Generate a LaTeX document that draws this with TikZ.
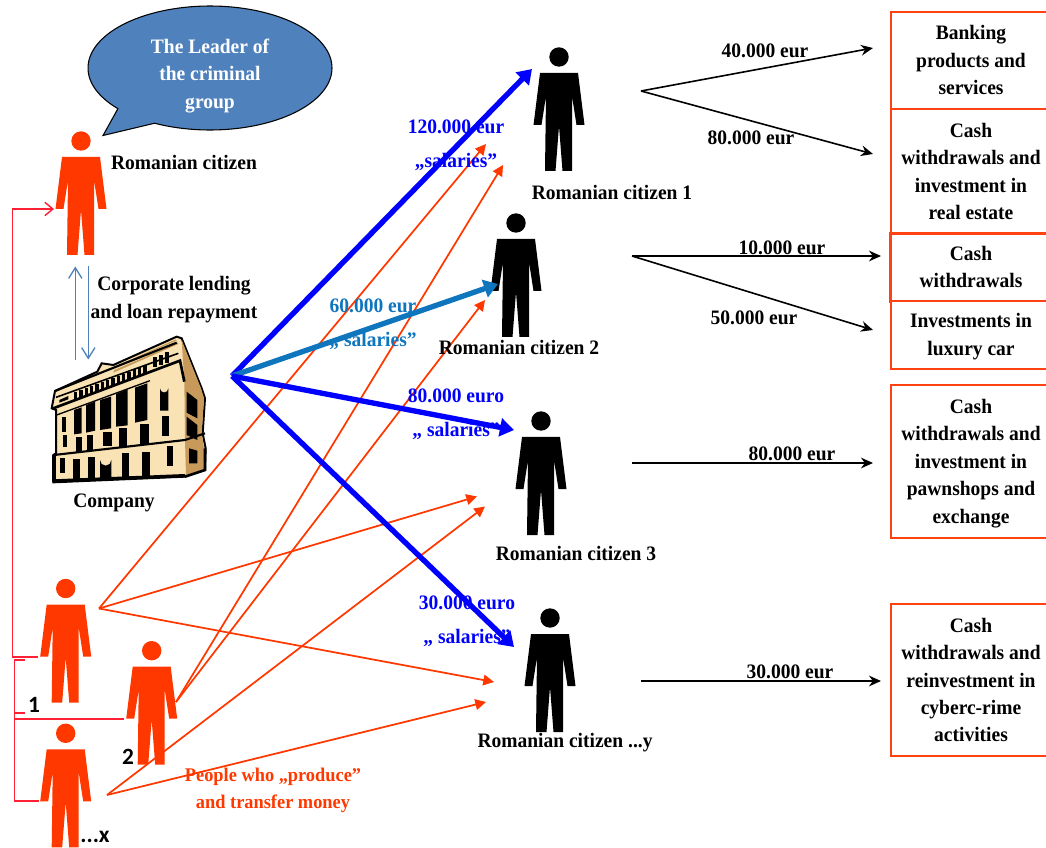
\documentclass[tikz,border=0pt]{standalone}
\usepackage{fontspec}
\setmainfont[FakeStretch=0.95]{Liberation Serif}
\newfontfamily\labelfont{Carlito}
\usetikzlibrary{arrows.meta}
\definecolor{orangeP}{HTML}{FF3800}
\definecolor{boxred}{HTML}{FF4212}
\definecolor{brack}{HTML}{FF2036}
\definecolor{steel}{HTML}{4F81BD}
\definecolor{midblue}{HTML}{0F75BD}
\definecolor{tanA}{HTML}{F9E2B4}
\definecolor{tanB}{HTML}{C79A5C}
\newcommand{\figperson}[3]{%
  \fill[#3] (#1,#2) circle (9.7);
  \fill[#3] (#1-19,#2+16) -- (#1+19,#2+16) -- (#1+25.5,#2+68) -- (#1+17.5,#2+68) -- (#1+13,#2+39)
    -- (#1+13,#2+114) -- (#1+3.5,#2+114) -- (#1,#2+69) -- (#1-3.5,#2+114) -- (#1-14,#2+114)
    -- (#1-13,#2+39) -- (#1-17.5,#2+68) -- (#1-25.5,#2+68) -- cycle;}
\tikzset{
  txt/.style={font=\fontsize{15.4}{20.6}\selectfont\bfseries,align=center,inner sep=0pt,text=#1},
  txt/.default=black,
  paytxt/.style={font=\fontsize{15.4}{25.8}\selectfont\bfseries,align=center,inner sep=0pt,text=#1},
  peopletxt/.style={font=\fontsize{14.5}{20.6}\selectfont\bfseries,align=center,inner sep=0pt,text=orangeP},
  casebox/.style={draw=boxred,line width=1.3pt,fill=white,inner sep=0pt,anchor=north west},
  heavy/.style={line width=4pt,-{Triangle[length=10.5pt,width=13.5pt]},#1},
  thinred/.style={line width=1.3pt,orangeP,-{Triangle[length=8pt,width=8pt]}},
  flow/.style={line width=1.2pt,black,-{Stealth[length=9pt,width=8pt]}},
  bracketline/.style={line width=1.4pt,brack},
  loan/.style={line width=1pt,steel,-{Straight Barb[length=8pt,width=10pt,line width=1pt]}},
  win/.style={fill=black},
  numlabel/.style={font=\labelfont\fontsize{17.5}{20}\selectfont\bfseries,inner sep=0pt},
}
\begin{document}
\begin{tikzpicture}[x=0.75pt,y=-0.75pt]
\useasboundingbox (0,0) rectangle (1046,848);
% boxes
\node[casebox,minimum width=120pt,minimum height=72.7pt] (b1) at (890,11) {};
\node[casebox,minimum width=120pt,minimum height=93pt] (b2) at (890,108) {};
\node[casebox,minimum width=120pt,minimum height=51pt,line width=2pt] (b3) at (889,232) {};
\node[casebox,minimum width=120pt,minimum height=51pt] (b4) at (890,300) {};
\node[casebox,minimum width=120pt,minimum height=114.8pt] (b5) at (890,384) {};
\node[casebox,minimum width=120pt,minimum height=114pt] (b6) at (890,603) {};
% speech bubble
\fill[steel,draw=black,line width=.8pt] plot[domain=139:477,samples=120] ({210+122*cos(\x)},{68+62*sin(\x)}) -- (103,135.5) -- cycle;
% people
\figperson{81}{141}{orangeP}
\figperson{65.7}{588.5}{orangeP}
\figperson{151.7}{650.7}{orangeP}
\figperson{65.7}{733.3}{orangeP}
\figperson{559}{57}{black}
\figperson{516}{223}{black}
\figperson{541}{421}{black}
\figperson{550}{618}{black}
% building
\begin{scope}[shift={(0,320)},x=0.25pt,y=-0.25pt]
\fill[tanA,draw=black,line width=1.5pt] (155,265) -- (165,213) -- (292,155) -- (305,130) -- (340,135) -- (530,50) -- (545,55) -- (605,205) -- (615,235) -- (608,340) -- (617,385) -- (615,450) -- (555,470) -- (160,487) -- (160,405) -- (168,400) -- (168,270) -- cycle;
\fill[tanB] (545,60) -- (603,205) -- (612,235) -- (605,340) -- (612,385) -- (612,448) -- (558,466) -- (555,360) -- (553,185) -- cycle;
\fill[tanB] (345,140) -- (528,58) -- (535,72) -- (340,158) -- cycle;
\fill[tanA] (340,145) -- (530,62) -- (533,68) -- (338,152) -- cycle;
\draw[line width=2pt] (157,266) -- (540,122) -- (553,185);
\draw[line width=1.6pt] (165,213) -- (530,68);
\draw[line width=1.2pt] (168,232) -- (535,100);
\draw[line width=1.6pt] (162,405) -- (555,360) -- (615,340);
\draw[line width=1pt] (170,285) -- (450,182);
\foreach \x in {222,238,...,430}{\fill[win] (\x,{241-(\x-220)*0.385}) rectangle ++(10,-24);}
\fill[win] (178,240) -- (205,228) -- (205,238) -- (178,248) -- cycle;
\fill[win] (458,112) rectangle (472,140);\fill[win] (478,105) rectangle (490,136);\fill[win] (495,97) rectangle (508,130);
\fill[win] (222,270) -- (245,262) -- (245,340) -- (222,343) -- cycle;
\fill[win] (258,255) -- (285,245) -- (285,332) -- (258,338) -- cycle;
\fill[win] (300,240) -- (333,230) -- (333,325) -- (300,330) -- cycle;
\fill[win] (348,222) -- (383,208) -- (383,316) -- (348,320) -- cycle;
\fill[win] (405,203) -- (442,190) -- (442,300) -- (405,308) -- cycle;
\fill[win] (228,350) rectangle (245,395);\fill[win] (262,345) rectangle (280,390);\fill[win] (310,335) rectangle (335,378);\fill[win] (358,325) rectangle (382,380);\fill[win] (420,312) rectangle (447,372);
\fill[win] (220,418) rectangle (240,485);\fill[win] (265,412) rectangle (285,482);
\fill[win] (300,478) -- (300,420) arc[start angle=180,end angle=0,radius=17] -- (334,478) -- cycle;
\fill[win] (365,400) rectangle (388,475);\fill[win] (425,395) rectangle (450,472);
\fill[win] (185,290) rectangle (198,335);\fill[win] (188,345) rectangle (202,380);\fill[win] (180,415) rectangle (195,460);
\fill[win] (480,272) -- (480,205) arc[start angle=180,end angle=0,radius=12.5] -- (505,272) -- cycle;
\fill[win] (487,288) rectangle (508,348);\fill[win] (500,378) rectangle (520,438);
\fill[win] (560,215) -- (592,240) -- (592,295) -- (560,278) -- cycle;
\fill[win] (560,290) -- (592,315) -- (592,360) -- (560,345) -- cycle;
\fill[win] (567,385) -- (592,392) -- (592,430) -- (567,430) -- cycle;
\fill[black] (160,478) -- (555,462) -- (555,472) -- (160,488) -- cycle;
\draw[line width=2.5pt] (162,405) -- (162,485);
\draw[line width=2pt] (555,470) -- (615,450) -- (615,385);
\end{scope}
% anchor points
\coordinate (hub) at (232,376);
\coordinate (h1) at (532,69);
\coordinate (h2) at (498,284);
\coordinate (h3) at (514,430);
\coordinate (h4) at (514,647);
\coordinate (o1) at (99,608.5);
\coordinate (o2) at (176,702);
\coordinate (ox) at (107,795);
\coordinate (t1) at (486,144);
\coordinate (t2) at (503,165);
\coordinate (t3) at (485,300);
\coordinate (t4) at (477,496.5);
\coordinate (t5) at (485,506.5);
\coordinate (t6) at (494,682);
\coordinate (t7) at (486,702);
\coordinate (k1) at (641,91);
\coordinate (k1a) at (873,48);
\coordinate (k1b) at (873,154);
\coordinate (k2) at (632,256);
\coordinate (k2a) at (881,256);
\coordinate (k2b) at (873,330);
\coordinate (k3) at (632,463);
\coordinate (k3a) at (873,463);
\coordinate (k4) at (641,681);
\coordinate (k4a) at (881,681);
\coordinate (la) at (12.5,209);
\coordinate (lb) at (54,209);
\coordinate (lc) at (12.5,657);
\coordinate (ld) at (38,657);
\coordinate (ma) at (25,660);
\coordinate (mb) at (14.5,660);
\coordinate (mc) at (14.5,801);
\coordinate (md) at (38.5,801);
\coordinate (me) at (14.5,719);
\coordinate (mf) at (124,719);
\coordinate (mg) at (14.5,713);
\coordinate (mh) at (25,713);
\coordinate (lu0) at (75.3,360);
\coordinate (lu1) at (75.3,266.5);
\coordinate (ld0) at (88.3,266);
\coordinate (ld1) at (88.3,359.5);
% red thin
\draw[thinred] (o1) -- (t1);
\draw[thinred] (o1) -- (t4);
\draw[thinred] (o1) -- (t6);
\draw[thinred] (o2) -- (t2);
\draw[thinred] (o2) -- (t3);
\draw[thinred] (ox) -- (t5);
\draw[thinred] (ox) -- (t7);
% heavy
\draw[heavy=blue] (hub) -- (h1);
\draw[heavy=midblue] (hub) -- (h2);
\draw[heavy=blue] (hub) -- (h3);
\draw[heavy=blue] (hub) -- (h4);
% flows
\draw[flow] (k1) -- (k1a);
\draw[flow] (k1) -- (k1b);
\draw[flow] (k2) -- (k2a);
\draw[flow] (k2) -- (k2b);
\draw[flow] (k3) -- (k3a);
\draw[flow] (k4) -- (k4a);
% brackets
\draw[bracketline,-{Straight Barb[length=6pt,width=10pt,line width=1.1pt]}] (ld) -- (lc) -- (la) -- (lb);
\draw[bracketline] (ma) -- (mb) -- (mc) -- (md);
\draw[bracketline] (me) -- (mf);
\draw[bracketline] (mg) -- (mh);
\draw[loan] (lu0) -- (lu1);
\draw[loan] (ld0) -- (ld1);
% text
\node[txt=white] (tl) at (210,76) {The Leader of\\the criminal\\group};
\node[txt] (n0) at (184,162.5) {Romanian citizen};
\node[txt] (nl) at (174,299.5) {Corporate lending\\and loan repayment};
\node[txt] (nc) at (114,502.5) {Company};
\node[txt] (n1) at (612,192.5) {Romanian citizen 1};
\node[txt] (n2) at (519,347.5) {Romanian citizen 2};
\node[txt] (n3) at (576,553.5) {Romanian citizen 3};
\node[txt] (n4) at (565,742.5) {Romanian citizen ...y};
\node[paytxt=blue] (s1) at (456,145) {120.000 eur\\,,salaries”};
\node[paytxt=midblue] (s2) at (373,324.5) {60.000 eur\\,, salaries”};
\node[paytxt=blue] (s3) at (456,414.5) {80.000 euro\\,, salaries”};
\node[paytxt=blue] (s4) at (467,621) {30.000 euro\\,, salaries”};
\node[txt] (e1) at (765,50.5) {40.000 eur};
\node[txt] (e2) at (751,137.5) {80.000 eur};
\node[txt] (e3) at (782,247.5) {10.000 eur};
\node[txt] (e4) at (754,318) {50.000 eur};
\node[txt] (e5) at (792,453.5) {80.000 eur};
\node[txt] (e6) at (790,671.5) {30.000 eur};
\node[txt] (x1) at (971,60) {Banking\\products and\\services};
\node[txt] (x2) at (971,171.5) {Cash\\withdrawals and\\investment in\\real estate};
\node[txt] (x3) at (971,267) {Cash\\withdrawals};
\node[txt] (x4) at (971,336.5) {Investments in\\luxury car};
\node[txt] (x5) at (971,463.5) {Cash\\withdrawals and\\investment in\\pawnshops and\\exchange};
\node[txt] (x6) at (971,680) {Cash\\withdrawals and\\reinvestment in\\cyberc-rime\\activities};
\node[peopletxt] (pp) at (273,790.5) {People who „produce”\\and transfer money};
\node[numlabel] (l1) at (34,705) {1};
\node[numlabel] (l2) at (128,757) {2};
\node[numlabel] (l3) at (95,836.5) {...x};
\end{tikzpicture}
\end{document}
